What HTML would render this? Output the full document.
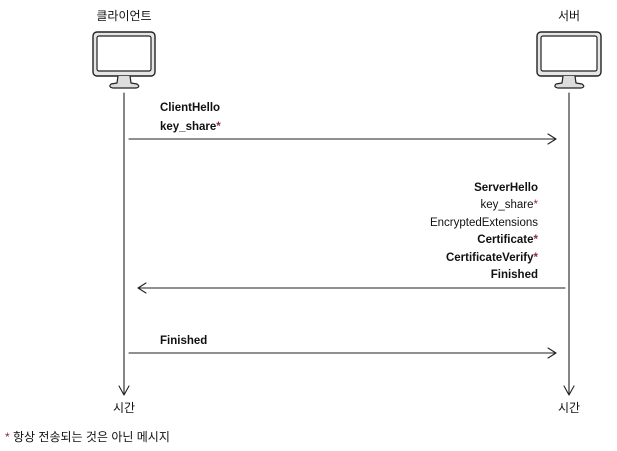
<!DOCTYPE html>
<html><head><meta charset="utf-8"><style>
html,body{margin:0;padding:0;background:#fff;}
svg{display:block;}
text{font-family:"Liberation Sans","Noto Sans CJK KR",sans-serif;fill:#111;}
.b{font-weight:bold;font-size:11.5px;}
.r{fill:#8b2a4a;}
</style></head><body>
<svg width="617" height="451" viewBox="0 0 617 451" xmlns="http://www.w3.org/2000/svg">
<g fill="none" stroke="#222" stroke-linecap="round" stroke-linejoin="round">
 <rect x="93" y="32" width="62" height="44" rx="4" stroke-width="1.4" fill="#e6e6e6"/>
 <rect x="97" y="36" width="54" height="35" rx="2" fill="#fff" stroke-width="1.2"/>
 <path d="M118 76 L117 83 L111 84 Q108 87 113 88 L136 88 Q141 87 137 84 L131 83 L130 76" stroke-width="1.2" fill="#ddd"/>
 <rect x="537" y="32" width="64" height="44" rx="4" stroke-width="1.4" fill="#e6e6e6"/>
 <rect x="541" y="36" width="56" height="35" rx="2" fill="#fff" stroke-width="1.2"/>
 <path d="M563 76 L562 83 L556 84 Q553 87 558 88 L581 88 Q586 87 582 84 L576 83 L575 76" stroke-width="1.2" fill="#ddd"/>
 <line x1="124" y1="93" x2="124" y2="394" stroke-width="1.1"/>
 <path d="M119 386 L124 395 L129 386" stroke-width="1.1"/>
 <line x1="569" y1="93" x2="569" y2="394" stroke-width="1.1"/>
 <path d="M564 386 L569 395 L574 386" stroke-width="1.1"/>
 <line x1="129" y1="139" x2="556" y2="139" stroke-width="1.1"/>
 <path d="M548 134 L556 139 L548 144" stroke-width="1.1"/>
 <line x1="138" y1="288" x2="565" y2="288" stroke-width="1.1"/>
 <path d="M146 283 L138 288 L146 293" stroke-width="1.1"/>
 <line x1="129" y1="353" x2="556" y2="353" stroke-width="1.1"/>
 <path d="M548 348 L556 353 L548 358" stroke-width="1.1"/>
</g>
<text x="124" y="20" font-size="12" text-anchor="middle">클라이언트</text>
<text x="569" y="20" font-size="12" text-anchor="middle">서버</text>
<text class="b" x="160" y="111">ClientHello</text>
<text class="b" x="160" y="130">key_share<tspan class="r">*</tspan></text>
<g text-anchor="end">
<text class="b" x="538" y="191">ServerHello</text>
<text x="538" y="208" font-size="11.5">key_share<tspan class="r">*</tspan></text>
<text x="538" y="226" font-size="11.5">EncryptedExtensions</text>
<text class="b" x="538" y="243">Certificate<tspan class="r">*</tspan></text>
<text class="b" x="538" y="261">CertificateVerify<tspan class="r">*</tspan></text>
<text class="b" x="538" y="278">Finished</text>
</g>
<text class="b" x="160" y="344">Finished</text>
<text x="124" y="412" font-size="12" text-anchor="middle">시간</text>
<text x="569" y="412" font-size="12" text-anchor="middle">시간</text>
<text x="5" y="441" font-size="12"><tspan class="r">*</tspan> 항상 전송되는 것은 아닌 메시지</text>
</svg>
</body></html>
